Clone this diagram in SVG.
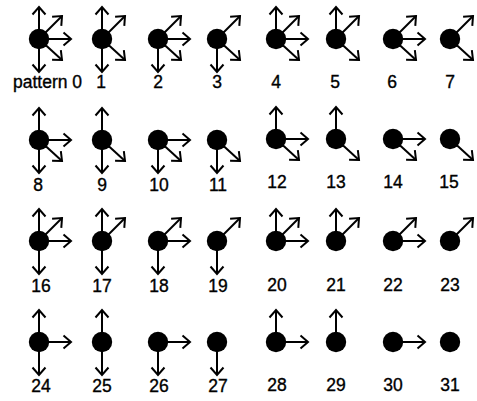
<svg xmlns="http://www.w3.org/2000/svg" xmlns:xlink="http://www.w3.org/1999/xlink" width="477" height="401" viewBox="0 0 477 401">
<style>
.a{stroke:#000;stroke-width:2;fill:none;marker-end:url(#h)}
.d{fill:#000}
.t{font-family:"Liberation Sans",Arial,sans-serif;font-size:17.5px;fill:#000;stroke:#000;stroke-width:0.35;text-anchor:middle}
</style>
<defs>
<marker id="h" markerUnits="userSpaceOnUse" orient="auto" markerWidth="20" markerHeight="20" refX="0" refY="0" viewBox="-10 -10 20 20" overflow="visible">
<path d="M-7.5,-6.5 L0,0 L-7.5,6.5" fill="none" stroke="#000" stroke-width="2"/>
</marker>
<line id="U" class="a" x1="0" y1="0" x2="0" y2="-32"/>
<line id="UR" class="a" x1="0" y1="0" x2="23" y2="-23"/>
<line id="R" class="a" x1="0" y1="0" x2="32" y2="0"/>
<line id="DR" class="a" x1="0" y1="0" x2="23" y2="21"/>
<line id="D" class="a" x1="0" y1="0" x2="0" y2="33"/>
<circle id="c" class="d" cx="0" cy="0" r="10.2"/>
</defs>
<rect width="477" height="401" fill="#fff"/>
<g id="connectors"></g>
<!-- row 1 -->
<g id="p0" transform="translate(39,39)"><use href="#U"/><use href="#UR"/><use href="#R"/><use href="#DR"/><use href="#D"/><use href="#c"/></g>
<g id="p1" transform="translate(102,39)"><use href="#U"/><use href="#UR"/><use href="#DR"/><use href="#D"/><use href="#c"/></g>
<g id="p2" transform="translate(158,39)"><use href="#UR"/><use href="#R"/><use href="#DR"/><use href="#D"/><use href="#c"/></g>
<g id="p3" transform="translate(217,39)"><use href="#UR"/><use href="#DR"/><use href="#D"/><use href="#c"/></g>
<g id="p4" transform="translate(276,39)"><use href="#U"/><use href="#UR"/><use href="#R"/><use href="#DR"/><use href="#c"/></g>
<g id="p5" transform="translate(336,39)"><use href="#U"/><use href="#UR"/><use href="#DR"/><use href="#c"/></g>
<g id="p6" transform="translate(393,39)"><use href="#UR"/><use href="#R"/><use href="#DR"/><use href="#c"/></g>
<g id="p7" transform="translate(450,39)"><use href="#UR"/><use href="#DR"/><use href="#c"/></g>
<!-- row 2 -->
<g id="p8" transform="translate(39,140)"><use href="#U"/><use href="#R"/><use href="#DR"/><use href="#D"/><use href="#c"/></g>
<g id="p9" transform="translate(102,140)"><use href="#U"/><use href="#DR"/><use href="#D"/><use href="#c"/></g>
<g id="p10" transform="translate(158,140)"><use href="#R"/><use href="#DR"/><use href="#D"/><use href="#c"/></g>
<g id="p11" transform="translate(217,140)"><use href="#DR"/><use href="#D"/><use href="#c"/></g>
<g id="p12" transform="translate(276,139)"><use href="#U"/><use href="#R"/><use href="#DR"/><use href="#c"/></g>
<g id="p13" transform="translate(336,139)"><use href="#U"/><use href="#DR"/><use href="#c"/></g>
<g id="p14" transform="translate(393,139)"><use href="#R"/><use href="#DR"/><use href="#c"/></g>
<g id="p15" transform="translate(450,139)"><use href="#DR"/><use href="#c"/></g>
<!-- row 3 -->
<g id="p16" transform="translate(39,241)"><use href="#U"/><use href="#UR"/><use href="#R"/><use href="#D"/><use href="#c"/></g>
<g id="p17" transform="translate(102,241)"><use href="#U"/><use href="#UR"/><use href="#D"/><use href="#c"/></g>
<g id="p18" transform="translate(158,241)"><use href="#UR"/><use href="#R"/><use href="#D"/><use href="#c"/></g>
<g id="p19" transform="translate(217,241)"><use href="#UR"/><use href="#D"/><use href="#c"/></g>
<g id="p20" transform="translate(276,241)"><use href="#U"/><use href="#UR"/><use href="#R"/><use href="#c"/></g>
<g id="p21" transform="translate(336,241)"><use href="#U"/><use href="#UR"/><use href="#c"/></g>
<g id="p22" transform="translate(393,241)"><use href="#UR"/><use href="#R"/><use href="#c"/></g>
<g id="p23" transform="translate(450,241)"><use href="#UR"/><use href="#c"/></g>
<!-- row 4 -->
<g id="p24" transform="translate(39,342)"><use href="#U"/><use href="#R"/><use href="#D"/><use href="#c"/></g>
<g id="p25" transform="translate(102,342)"><use href="#U"/><use href="#D"/><use href="#c"/></g>
<g id="p26" transform="translate(158,342)"><use href="#R"/><use href="#D"/><use href="#c"/></g>
<g id="p27" transform="translate(217,342)"><use href="#D"/><use href="#c"/></g>
<g id="p28" transform="translate(276,342)"><use href="#U"/><use href="#R"/><use href="#c"/></g>
<g id="p29" transform="translate(336,342)"><use href="#U"/><use href="#c"/></g>
<g id="p30" transform="translate(393,342)"><use href="#R"/><use href="#c"/></g>
<g id="p31" transform="translate(450,342)"><use href="#c"/></g>
<g id="labels">
<text class="t" x="13" y="88" style="text-anchor:start">pattern 0</text>
<text class="t" x="101" y="88">1</text>
<text class="t" x="158" y="88">2</text>
<text class="t" x="217" y="88">3</text>
<text class="t" x="276" y="88">4</text>
<text class="t" x="335" y="88">5</text>
<text class="t" x="392" y="88">6</text>
<text class="t" x="450" y="88">7</text>
<text class="t" x="38" y="191">8</text>
<text class="t" x="102" y="191">9</text>
<text class="t" x="159" y="191">10</text>
<text class="t" x="218" y="191">11</text>
<text class="t" x="277" y="188">12</text>
<text class="t" x="336" y="188">13</text>
<text class="t" x="393" y="188">14</text>
<text class="t" x="449" y="188">15</text>
<text class="t" x="41" y="292">16</text>
<text class="t" x="102" y="292">17</text>
<text class="t" x="159" y="292">18</text>
<text class="t" x="218" y="292">19</text>
<text class="t" x="277" y="291">20</text>
<text class="t" x="336" y="291">21</text>
<text class="t" x="393" y="291">22</text>
<text class="t" x="450" y="291">23</text>
<text class="t" x="41" y="392">24</text>
<text class="t" x="102" y="392">25</text>
<text class="t" x="159" y="392">26</text>
<text class="t" x="218" y="392">27</text>
<text class="t" x="277" y="391">28</text>
<text class="t" x="336" y="391">29</text>
<text class="t" x="393" y="391">30</text>
<text class="t" x="450" y="391">31</text>
</g>
</svg>
